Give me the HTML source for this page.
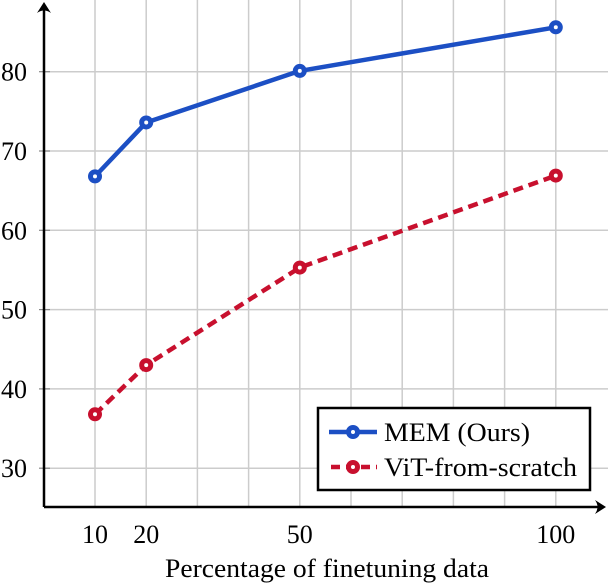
<!DOCTYPE html>
<html><head><meta charset="utf-8"><style>
body{margin:0;background:#fff}
svg{display:block;font-family:"Liberation Serif",serif}
</style></head><body>
<svg id="chart" width="608" height="584" viewBox="0 0 608 584">
<g id="grid"></g>
<g id="axes"></g>
<g id="series"></g>
<g>
<rect x="318" y="408" width="272" height="82" fill="#fff" stroke="#000" stroke-width="2.5"/>
<g>
<line x1="329" y1="432" x2="377" y2="432" stroke="#1c4fc4" stroke-width="4.5"/>
<circle cx="353" cy="432" r="4.5" fill="#fff" stroke="#1c4fc4" stroke-width="5"/>
<text x="384" y="441" font-size="26" textLength="146" lengthAdjust="spacingAndGlyphs">MEM (Ours)</text></g>
<g>
<line x1="329" y1="467" x2="377" y2="467" stroke="#c8102e" stroke-width="4.5" stroke-dasharray="9,6" stroke-dashoffset="-2"/>
<circle cx="353" cy="467" r="4.5" fill="#fff" stroke="#c8102e" stroke-width="5"/>
<text x="384" y="476" font-size="26" textLength="193" lengthAdjust="spacingAndGlyphs">ViT-from-scratch</text></g>
</g>
<text x="327" y="577" font-size="26" text-anchor="middle" textLength="324" lengthAdjust="spacingAndGlyphs">Percentage of finetuning data</text>
</svg>
<script>
const xValues=[10,20,50,100];
const memValues=[66.8,73.6,80.1,85.6];
const vitValues=[36.8,43.0,55.3,66.9];
const xTickLabels=["10","20","50","100"];
const yTickLabels=[30,40,50,60,70,80];
const NS="http://www.w3.org/2000/svg";
const xs=v=>95+(v-10)*5.12;
const ys=v=>71.7+(80-v)*7.93;
function mk(p,t,a){const e=document.createElementNS(NS,t);for(const k in a)e.setAttribute(k,a[k]);p.appendChild(e);return e;}
const grid=document.getElementById('grid'),axes=document.getElementById('axes'),ser=document.getElementById('series');
for(let v=10;v<=100;v+=10){const l=mk(grid,'line',{x1:xs(v),x2:xs(v),y1:0,y2:507,stroke:'#cccccc','stroke-width':1.5});

}
yTickLabels.forEach(v=>{const l=mk(grid,'line',{x1:44,x2:608,y1:ys(v),y2:ys(v),stroke:'#cccccc','stroke-width':1.5});


mk(axes,'line',{x1:39,x2:50,y1:ys(v),y2:ys(v),stroke:'#888','stroke-width':1.2});
const t=mk(axes,'text',{x:14,y:ys(v)+9,'font-size':26,'text-anchor':'middle'});t.textContent=v;

});
xValues.forEach((v,i)=>{const t=mk(axes,'text',{x:xs(v),y:543,'font-size':26,'text-anchor':'middle'});t.textContent=xTickLabels[i];

});
mk(axes,'line',{x1:44,y1:507,x2:44,y2:8,stroke:'#000','stroke-width':2.5});
mk(axes,'path',{d:'M37,13 L44,2 L51,13 Q44,8 37,13Z',fill:'#000'});
mk(axes,'line',{x1:44,y1:507,x2:600,y2:507,stroke:'#000','stroke-width':2.5});
mk(axes,'path',{d:'M595,500 L606,507 L595,514 Q600,507 595,500Z',fill:'#000'});
function series(vals,color,dash,name){
const pts=xValues.map((x,i)=>xs(x)+','+ys(vals[i])).join(' ');
const pl=mk(ser,'polyline',{points:pts,fill:'none',stroke:color,'stroke-width':4.5,'stroke-linejoin':'round'});
if(dash)pl.setAttribute('stroke-dasharray',dash);


xValues.forEach((x,i)=>{const c=mk(ser,'circle',{cx:xs(x),cy:ys(vals[i]),r:4.5,fill:'#fff',stroke:color,'stroke-width':5});

});}
series(vitValues,'#c8102e','10,6','vit');
series(memValues,'#1c4fc4',null,'mem');
</script>
</body></html>
